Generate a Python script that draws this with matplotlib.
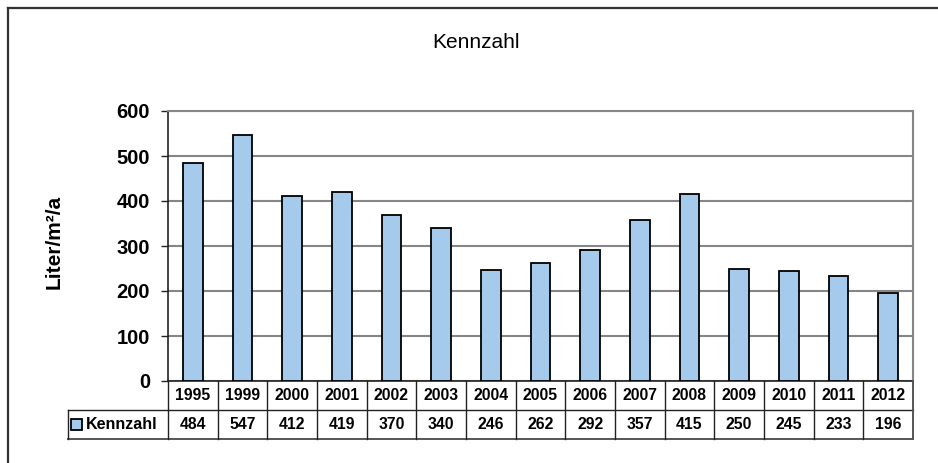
import matplotlib.pyplot as plt
from matplotlib.lines import Line2D
from matplotlib.patches import Rectangle

plt.rcParams['font.family'] = ['Liberation Sans', 'DejaVu Sans']

# Kennzahl per year
years = ['1995', '1999', '2000', '2001', '2002', '2003', '2004', '2005',
         '2006', '2007', '2008', '2009', '2010', '2011', '2012']
kennzahl = [484, 547, 412, 419, 370, 340, 246, 262, 292, 357, 415, 250, 245, 233, 196]
series_name = 'Kennzahl'
y_ticks = [0, 100, 200, 300, 400, 500, 600]

bar_color = '#A6CAEC'
grid_color = '#868686'
line_dark = '#222222'

W, H = 938, 463
fig = plt.figure(figsize=(W / 100, H / 100), dpi=100)

# plot area in pixels: left, top, right, bottom
px_l, px_t, px_r, px_b = 168, 111, 913, 381
ax = fig.add_axes([px_l / W, 1 - px_b / H, (px_r - px_l) / W, (px_b - px_t) / H])

x = list(range(len(years)))
ax.bar(x, kennzahl, width=0.4, color=bar_color, edgecolor='black', linewidth=1.3, zorder=3)

ax.set_xlim(-0.5, len(years) - 0.5)
ax.set_ylim(0, 600)
ax.set_yticks(y_ticks)
ax.set_yticklabels([str(v) for v in y_ticks], fontsize=14.5, fontweight='bold')
ax.tick_params(axis='y', direction='out', length=5, width=1.0, color=line_dark, pad=8)
ax.set_xticks([])
ax.yaxis.grid(True, color=grid_color, linewidth=1.5, zorder=0)
ax.set_axisbelow(True)

ax.spines['left'].set_color(line_dark)
ax.spines['left'].set_linewidth(1.2)
ax.spines['top'].set_color(grid_color)
ax.spines['top'].set_linewidth(1.5)
ax.spines['right'].set_color(grid_color)
ax.spines['right'].set_linewidth(1.5)
ax.spines['bottom'].set_color(line_dark)
ax.spines['bottom'].set_linewidth(1.2)

# data table below the plot
ax_h = px_b - px_t
row_h = 29 / ax_h
left_col = (68 - px_l) / (px_r - px_l)
n = len(years)

def tline(xs, ys, lw=1.0, color=line_dark):
    ax.add_line(Line2D(xs, ys, transform=ax.transAxes, color=color,
                       linewidth=lw, clip_on=False, zorder=4))

# horizontal lines
tline([0, 1], [-row_h, -row_h])
tline([left_col, 1], [-2 * row_h, -2 * row_h], lw=1.4, color='#555555')
tline([left_col, 0], [-row_h, -row_h])
# vertical lines
tline([left_col, left_col], [-row_h, -2 * row_h])
tline([0, 0], [0, -2 * row_h])
for i in range(1, n + 1):
    tline([i / n, i / n], [0, -2 * row_h], color='#555555' if i == n else line_dark,
          lw=1.4 if i == n else 1.0)

for i, (yr, v) in enumerate(zip(years, kennzahl)):
    xc = (i + 0.5) / n
    ax.text(xc, -0.5 * row_h, yr, transform=ax.transAxes, ha='center', va='center',
            fontsize=11.3, fontweight='bold')
    ax.text(xc, -1.5 * row_h, str(v), transform=ax.transAxes, ha='center', va='center',
            fontsize=11.3, fontweight='bold')

# legend key inside the table
key_w = 11 / (px_r - px_l)
key_h = 11 / ax_h
key_x = (71 - px_l) / (px_r - px_l)
ax.add_patch(Rectangle((key_x, -1.5 * row_h - key_h / 2), key_w, key_h,
                       transform=ax.transAxes, facecolor=bar_color, edgecolor='black',
                       linewidth=1.3, clip_on=False, zorder=5))
ax.text((86 - px_l) / (px_r - px_l), -1.5 * row_h, series_name, transform=ax.transAxes,
        ha='left', va='center', fontsize=11.5, fontweight='bold')

# title and axis label
fig.text(476 / W, 1 - 43 / H, 'Kennzahl', ha='center', va='center', fontsize=15)
fig.text(54 / W, 1 - 242 / H, 'Liter/m²/a', ha='center', va='center', rotation=90,
         fontsize=15, fontweight='bold')

# chart frame (top and left edges)
fig.add_artist(Line2D([8 / W, 1.0], [1 - 7.5 / H, 1 - 7.5 / H], transform=fig.transFigure,
                      color='#333333', linewidth=1.6))
fig.add_artist(Line2D([8 / W, 8 / W], [1 - 7.5 / H, 0], transform=fig.transFigure,
                      color='#333333', linewidth=1.6))

fig.savefig('out.png', dpi=100)
